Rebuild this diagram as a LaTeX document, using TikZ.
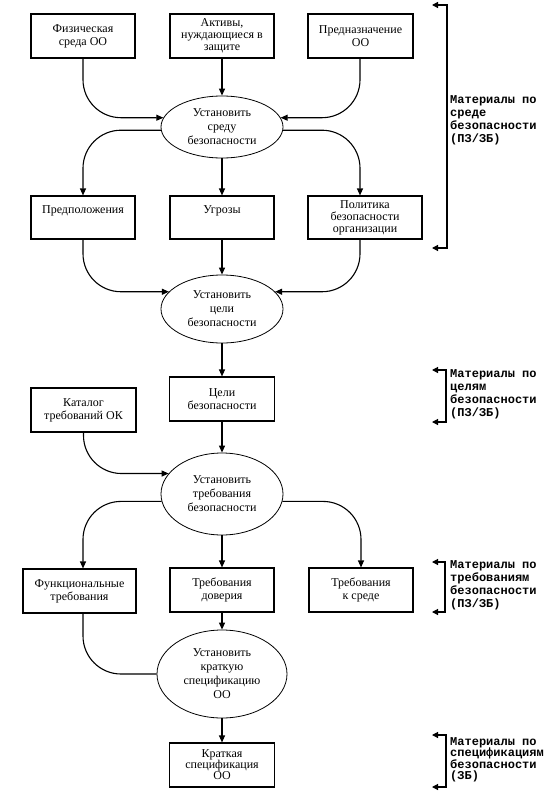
\documentclass[tikz,border=0pt]{standalone}
\usepackage{fontspec}
\setmainfont{Liberation Serif}
\newfontfamily\labfont{Liberation Mono}
\usetikzlibrary{arrows.meta,shapes.geometric}
\begin{document}
\begin{tikzpicture}[x=1pt,y=-1pt,
  box/.style={draw,line width=1.1pt,rectangle,minimum width=104pt,minimum height=44pt,inner sep=1pt,align=center,font=\fontsize{12}{13}\selectfont},
  proc/.style={draw,line width=0.8pt,ellipse,inner sep=0pt,align=center,font=\fontsize{12}{14}\selectfont},
  flow/.style={line width=1.1pt,-{Triangle[length=7pt,width=6pt]},rounded corners=38pt},
  plainflow/.style={line width=1.1pt,rounded corners=38pt},
  bracket/.style={line width=1.2pt,{Triangle[length=6pt,width=6pt]}-{Triangle[length=6pt,width=6pt]}},
  lab/.style={anchor=west,align=left,inner sep=0pt,font=\labfont\bfseries\fontsize{12}{13}\selectfont}
]
\useasboundingbox (0,0) rectangle (555,795);

% top row
\node[box] (b1) at (83,36) {Физическая\\среда ОО};
\node[box,font=\fontsize{12}{12}\selectfont] (b2) at (222,36) {Активы,\\нуждающиеся в\\защите};
\node[box,minimum width=105pt] (b3) at (360.5,36) {Предназначение\\ОО};

\node[proc,minimum width=122pt,minimum height=62pt] (e1) at (222,127) {Установить\\среду\\безопасности};

\node[box,minimum height=43pt,text depth=16pt] (b4) at (83,217.5) {Предположения};
\node[box,minimum height=43pt,text depth=16pt] (b5) at (222,217.5) {Угрозы};
\node[box,minimum width=114pt,minimum height=43pt,font=\fontsize{12}{12}\selectfont] (b6) at (365,217.5) {Политика\\безопасности\\организации};

\node[proc,minimum width=122pt,minimum height=68pt] (e2) at (222,309) {Установить\\цели\\безопасности};

\node[box,minimum width=105pt] (b7) at (222,399) {Цели\\безопасности};
\node[box,minimum width=105pt] (b8) at (83.5,410) {Каталог\\требований ОК};

\node[proc,minimum width=122pt,minimum height=82pt] (e3) at (222,494) {Установить\\требования\\безопасности};

\node[box,minimum width=113pt] (b9) at (79.5,591) {Функциональные\\требования};
\node[box] (b10) at (222,590) {Требования\\доверия};
\node[box] (b11) at (361,590) {Требования\\к среде};

\node[proc,minimum width=130pt,minimum height=88pt] (e4) at (222,674) {Установить\\краткую\\спецификацию\\ОО};

\node[box,minimum width=105pt,font=\fontsize{12}{11}\selectfont] (b12) at (222,765) {Краткая\\спецификация\\ОО};

% connectors
\draw[flow] (b1.south) |- (e1.171);
\draw[flow] ([xshift=-0.5pt]b3.south) |- (e1.9);
\draw[flow] (b2) -- (e1);
\draw[flow] (e1.183) -| (b4.north);
\draw[flow] (e1) -- (b5);
\draw[flow] (e1.357) -| ([xshift=-5pt]b6.north);

\draw[flow] (b4.south) |- (e2.162);
\draw[flow] (b5) -- (e2);
\draw[flow] ([xshift=-5pt]b6.south) |- (e2.18);

\draw[flow] (e2) -- (b7);
\draw[flow] (b7) -- (e3);
\draw[flow] (b8.south) |- (e3.159);

\draw[flow] (e3.187) -| ([xshift=3.5pt]b9.north);
\draw[flow] (e3) -- (b10);
\draw[flow] (e3.353) -| (b11.north);

\draw[plainflow] ([xshift=3.5pt]b9.south) |- (e4.west);
\draw[flow] (b10) -- (e4);
\draw[flow] (e4) -- (b12);

% brackets
\coordinate (k1a) at (432,5);   \coordinate (k1b) at (447,5);
\coordinate (k1c) at (447,248); \coordinate (k1d) at (432,248);
\draw[bracket] (k1a) -- (k1b) -- (k1c) -- (k1d);
\node[lab] (t1) at (450,120) {Материалы по\\среде\\безопасности\\(ПЗ/ЗБ)};

\coordinate (k2a) at (432,370);   \coordinate (k2b) at (446,370);
\coordinate (k2c) at (446,422); \coordinate (k2d) at (432,422);
\draw[bracket] (k2a) -- (k2b) -- (k2c) -- (k2d);
\node[lab] (t2) at (450,394) {Материалы по\\целям\\безопасности\\(ПЗ/ЗБ)};

\coordinate (k3a) at (432,562);   \coordinate (k3b) at (445,562);
\coordinate (k3c) at (445,612); \coordinate (k3d) at (432,612);
\draw[bracket] (k3a) -- (k3b) -- (k3c) -- (k3d);
\node[lab] (t3) at (450,585) {Материалы по\\требованиям\\безопасности\\(ПЗ/ЗБ)};

\coordinate (k4a) at (432,735);   \coordinate (k4b) at (446,735);
\coordinate (k4c) at (446,787); \coordinate (k4d) at (432,787);
\draw[bracket] (k4a) -- (k4b) -- (k4c) -- (k4d);
\node[lab,font=\labfont\bfseries\fontsize{12}{11.5}\selectfont] (t4) at (450,760) {Материалы по\\спецификациям\\безопасности\\(ЗБ)};
\end{tikzpicture}
\end{document}
